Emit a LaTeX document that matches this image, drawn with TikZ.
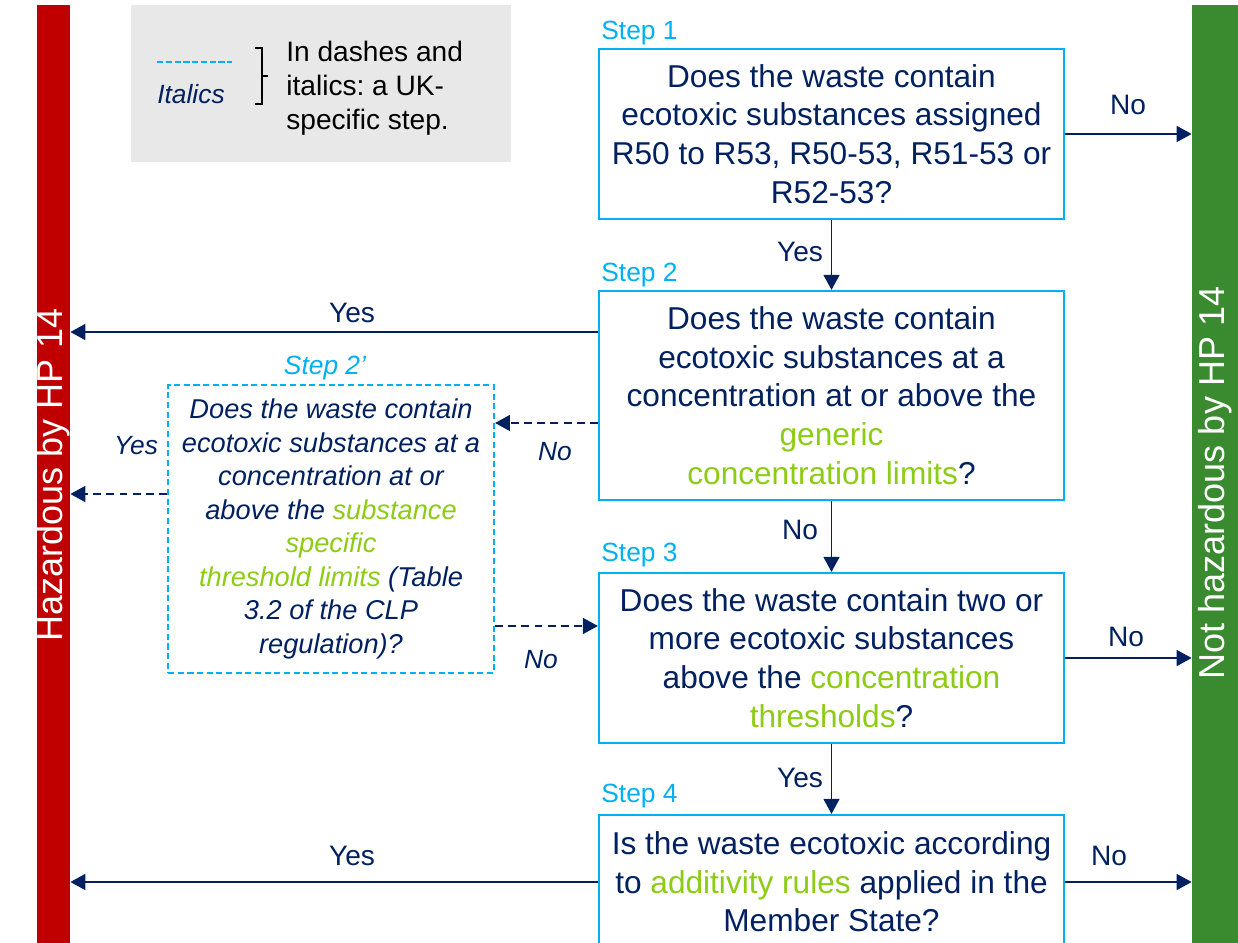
\documentclass[tikz,border=0pt]{standalone}
\usepackage{fontspec}
\setmainfont{Liberation Sans}
\usetikzlibrary{arrows.meta}
\definecolor{navy}{RGB}{0,32,96}
\definecolor{stepcyan}{RGB}{0,176,240}
\definecolor{hazred}{RGB}{192,0,0}
\definecolor{okgreen}{RGB}{58,138,48}
\definecolor{limetext}{RGB}{140,204,20}
\definecolor{legendgray}{RGB}{232,232,232}
\newcommand{\grn}[1]{\textcolor{limetext}{#1}}
\frenchspacing

\begin{document}
\begin{tikzpicture}[x=0.02cm,y=-0.02cm,
    every node/.style={inner sep=0pt},
    stepbox/.style={draw=stepcyan,line width=1.3pt,minimum width=9.3cm,align=center,
      text=navy,font=\fontsize{18}{22}\selectfont},
    ukbox/.style={draw=stepcyan,line width=1.2pt,dash pattern=on 3.5pt off 2pt,
      minimum width=6.52cm,minimum height=5.76cm,align=center,text=navy,
      font=\fontsize{15.5}{19.1}\selectfont\itshape},
    flow/.style={draw=navy,line width=1.1pt,-{Triangle[length=8.5pt,width=9pt]}},
    ukflow/.style={flow,dash pattern=on 4.5pt off 3pt},
    ans/.style={text=navy,font=\fontsize{16}{19}\selectfont},
    ukans/.style={text=navy,font=\fontsize{15}{18}\selectfont\itshape},
    steplbl/.style={anchor=west,text=stepcyan,font=\fontsize{15}{18}\selectfont},
    bar/.style={minimum width=#1,minimum height=18.76cm},
    bartxt/.style={rotate=90,text=white,font=\fontsize{20.5}{24}\selectfont}]
  \useasboundingbox (0,0) rectangle (1238,943);
  \clip (0,0) rectangle (1238,943);

  % side bars
  \node[bar=0.66cm,fill=hazred] (haz) at (53.5,474) {};
  \node[bartxt] (haztxt) at (53.5,475) {Hazardous by HP 14};
  \node[bar=0.92cm,fill=okgreen] (nothaz) at (1215,474) {};
  \node[bartxt] (nothaztxt) at (1215,483) {Not hazardous by HP 14};

  % legend
  \node[fill=legendgray,minimum width=7.6cm,minimum height=3.14cm] (legend) at (321,83.5) {};
  \draw[stepcyan,line width=1.3pt,dash pattern=on 3.5pt off 1.5pt] (157,62) -- (232,62);
  \node[text=navy,font=\fontsize{15}{18}\selectfont\itshape] (legit) at (191,94) {Italics};
  \draw[black,line width=0.6pt] (255,48) -- (262,48) -- (262,104) -- (255,104)
    (262,76) -- (268,76);
  \node[anchor=west,align=left,font=\fontsize{16}{19.3}\selectfont] (legtxt) at (286,88)
    {In dashes and\\italics: a UK-\\specific step.};

  % steps
  \node[stepbox,minimum height=3.4cm] (s1) at (831.5,134)
    {Does the waste contain\\ecotoxic substances assigned\\R50 to R53, R50-53, R51-53 or\\R52-53?};
  \node[steplbl] (st1) at (601,33) {Step 1};
  \node[stepbox,minimum height=4.18cm] (s2) at (831.5,395.5)
    {Does the waste contain\\ecotoxic substances at a\\concentration at or above the\\\grn{generic}\\\grn{concentration limits}?};
  \node[steplbl] (st2) at (601,275) {Step 2};
  \node[ukbox] (uk) at (331,529)
    {Does the waste contain\\ecotoxic substances at a\\concentration at or\\above the \grn{substance}\\\grn{specific}\\\grn{threshold limits} (Table\\3.2 of the CLP\\regulation)?};
  \node[text=stepcyan,font=\fontsize{15}{18}\selectfont\itshape] (stuk) at (325,368) {Step 2’};
  \node[stepbox,minimum height=3.4cm] (s3) at (831.5,658)
    {Does the waste contain two or\\more ecotoxic substances\\above the \grn{concentration}\\\grn{thresholds}?};
  \node[steplbl] (st3) at (601,555) {Step 3};
  \node[stepbox,minimum height=2.68cm] (s4) at (831.5,882)
    {Is the waste ecotoxic according\\to \grn{additivity rules} applied in the\\Member State?};
  \node[steplbl] (st4) at (601,796) {Step 4};

  % connectors
  \coordinate (s2yes) at ([yshift=1.27cm]s2.west);
  \coordinate (s2no) at ([yshift=-0.55cm]s2.west);
  \coordinate (ukyes) at ([yshift=0.7cm]uk.west);
  \coordinate (ukno) at ([yshift=-1.94cm]uk.east);
  \draw[flow] (s1.east) -- (s1.east -| nothaz.west);
  \draw[flow] (s1.south) -- (s2.north);
  \draw[flow] (s2yes) -- (s2yes -| haz.east);
  \draw[ukflow] (s2no) -- (s2no -| uk.east);
  \draw[ukflow] (ukyes) -- (ukyes -| haz.east);
  \draw[ukflow] (ukno) -- (ukno -| s3.west);
  \draw[flow] (s2.south) -- (s3.north);
  \draw[flow] (s3.east) -- (s3.east -| nothaz.west);
  \draw[flow] (s3.south) -- (s4.north);
  \draw[flow] (s4.west) -- (s4.west -| haz.east);
  \draw[flow] (s4.east) -- (s4.east -| nothaz.west);

  % answers
  \node[ans] (a1) at (1128,105) {No};
  \node[ans] (a2) at (800,252) {Yes};
  \node[ans] (a3) at (352,313) {Yes};
  \node[ukans] (a4) at (555,452) {No};
  \node[ukans] (a5) at (136,446) {Yes};
  \node[ukans] (a6) at (541,660) {No};
  \node[ans] (a7) at (800,530) {No};
  \node[ans] (a8) at (1126,637) {No};
  \node[ans] (a9) at (800,778) {Yes};
  \node[ans] (a10) at (352,856) {Yes};
  \node[ans] (a11) at (1109,856) {No};
\end{tikzpicture}
\end{document}
